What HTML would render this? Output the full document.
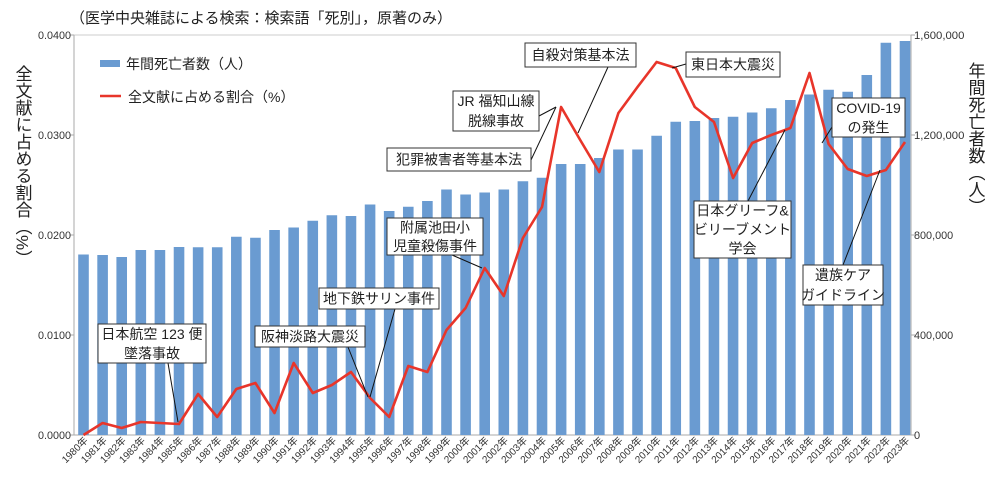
<!DOCTYPE html>
<html><head><meta charset="utf-8"><style>
html,body{margin:0;padding:0;background:#fff;width:1001px;height:479px;overflow:hidden}
svg{display:block;font-family:"Liberation Sans","Noto Sans CJK JP",sans-serif}
.ann rect{fill:#fff;stroke:#333;stroke-width:1}
.ann text{font-size:14px;fill:#222;text-anchor:middle}
.ann line{stroke:#111;stroke-width:1}
</style></head><body>
<svg id="chart" width="1001" height="479" viewBox="0 0 1001 479">
<text x="70" y="23" font-size="15" fill="#222">（医学中央雑誌による検索：検索語「死別」，原著のみ）</text>
<g id="axes"></g>
<g id="bars"></g>
<g id="line"></g>
<g id="xlabels"></g>
<g>
<rect x="100" y="60" width="20" height="7" fill="#6a9bd1"/>
<text x="126" y="69" font-size="14" fill="#222">年間死亡者数（人）</text>
<line x1="100" y1="96" x2="121" y2="96" stroke="#e8352a" stroke-width="2.5"/>
<text x="128" y="102" font-size="14" fill="#222">全文献に占める割合（%）</text>
</g>
<text font-size="17" fill="#222" style="writing-mode:vertical-rl" x="22" y="65">全文献に占める割合（%）</text>
<text font-size="17" fill="#222" style="writing-mode:vertical-rl" x="975" y="62">年間死亡者数（人）</text>
<g id="anns"></g>
</svg>
<script>
const years=[1980,1981,1982,1983,1984,1985,1986,1987,1988,1989,1990,1991,1992,1993,1994,1995,1996,1997,1998,1999,2000,2001,2002,2003,2004,2005,2006,2007,2008,2009,2010,2011,2012,2013,2014,2015,2016,2017,2018,2019,2020,2021,2022,2023];
const deaths=[722000,720000,712000,740000,740000,752000,751000,751000,793000,789000,820000,830000,857000,879000,876000,922000,896000,913000,936000,982000,962000,970000,982000,1015000,1029000,1084000,1084000,1108000,1142000,1142000,1197000,1253000,1256000,1268000,1273000,1290000,1307000,1340000,1362000,1381000,1373000,1440000,1569000,1576000];
const ratio=[0,0.0012,0.0007,0.0013,0.0012,0.0011,0.0041,0.0018,0.0046,0.0052,0.0022,0.0072,0.0042,0.0050,0.0063,0.0037,0.0018,0.0069,0.0063,0.0105,0.0127,0.0167,0.0139,0.0197,0.0228,0.0328,0.0295,0.0263,0.0322,0.0348,0.0373,0.0367,0.0328,0.0313,0.0257,0.0292,0.0300,0.0307,0.0362,0.0291,0.0266,0.0259,0.0265,0.0293];
const leftTicks=["0.0000","0.0100","0.0200","0.0300","0.0400"];
const rightTicks=["0","400,000","800,000","1,200,000","1,600,000"];
const NS="http://www.w3.org/2000/svg";
const X0=74,X1=911,Y0=435,Y1=35;
const step=(905-83.5)/(years.length-1);
const xPos=i=>83.5+i*step;
const yL=v=>Y0-(v/0.04)*(Y0-Y1);
const yR=v=>Y0-(v/1600000)*(Y0-Y1);
function mk(tag,attrs,parent){const e=document.createElementNS(NS,tag);for(const k in attrs)e.setAttribute(k,attrs[k]);parent.appendChild(e);return e;}
const axes=document.getElementById('axes');
let e;
e=mk('line',{x1:X0,y1:Y1,x2:X1,y2:Y1,stroke:'#ccc','stroke-width':1},axes);


e=mk('line',{x1:X0,y1:Y1,x2:X0,y2:Y0,stroke:'#aaa','stroke-width':1},axes);


e=mk('line',{x1:X1,y1:Y1,x2:X1,y2:Y0,stroke:'#aaa','stroke-width':1},axes);


e=mk('line',{x1:X0,y1:Y0,x2:X1,y2:Y0,stroke:'#aaa','stroke-width':1},axes);


leftTicks.forEach((t,i)=>{const y=yL(parseFloat(t));
 e=mk('line',{x1:X0-4,y1:y,x2:X0,y2:y,stroke:'#aaa'},axes);
 
 
 e=mk('text',{x:X0-3,y:y+4,'font-size':11,'text-anchor':'end',fill:'#333',textLength:33,lengthAdjust:'spacingAndGlyphs'},axes);e.textContent=t;
 
 });
rightTicks.forEach((t,i)=>{const y=yR(parseFloat(t.replace(/,/g,'')));
 e=mk('line',{x1:X1,y1:y,x2:X1+4,y2:y,stroke:'#aaa'},axes);
 
 
 e=mk('text',{x:X1+3,y:y+4,'font-size':11,fill:'#333'},axes);e.textContent=t;
 if(t.length>3){e.setAttribute('textLength',t.length*5.6);e.setAttribute('lengthAdjust','spacingAndGlyphs');}
 
 });
const bars=document.getElementById('bars');
deaths.forEach((d,i)=>{const y=yR(d);
 e=mk('rect',{x:xPos(i)-5.3,y:y,width:10.6,height:Y0-y,fill:'#6a9bd1'},bars);
 
 });
const pts=ratio.map((r,i)=>xPos(i).toFixed(1)+','+yL(r).toFixed(1)).join(' ');
e=mk('polyline',{points:pts,fill:'none',stroke:'#e8352a','stroke-width':2.6,'stroke-linejoin':'round'},document.getElementById('line'));


const xl=document.getElementById('xlabels');
years.forEach((yr,i)=>{const x=xPos(i)+5,y=441;
 e=mk('text',{x:x,y:y,'font-size':10,'text-anchor':'end',fill:'#333',transform:`rotate(-45 ${x} ${y})`,textLength:32,lengthAdjust:'spacingAndGlyphs'},xl);
 e.textContent=yr+'年';
 
 });
const anns=[
 {n:'jal-123',l:['日本航空 123 便','墜落事故'],b:[98,324,108,39],ln:[168,363,178,422]},
 {n:'hanshin-earthquake',l:['阪神淡路大震災'],b:[255,326,110,21],ln:[348,347,368,397]},
 {n:'sarin-attack',l:['地下鉄サリン事件'],b:[319,288,120,21],ln:[395,309,370,397]},
 {n:'ikeda-school',l:['附属池田小','児童殺傷事件'],b:[387,218,96,37],ln:[452,255,482,268]},
 {n:'crime-victims-act',l:['犯罪被害者等基本法'],b:[387,148,144,23],ln:[531,160,556,107]},
 {n:'jr-fukuchiyama',l:['JR 福知山線','脱線事故'],b:[453,91,86,40],ln:[539,116,556,107]},
 {n:'suicide-act',l:['自殺対策基本法'],b:[525,43,111,24],ln:[608,67,578,133]},
 {n:'east-japan-earthquake',l:['東日本大震災'],b:[686,52,94,25],ln:[686,64,672,68]},
 {n:'covid-19',l:['COVID-19','の発生'],b:[832,98,73,39],ln:[832,127,822,143]},
 {n:'grief-society',l:['日本グリーフ&','ビリーブメント','学会'],b:[694,201,97,57],ln:[748,201,785,130]},
 {n:'bereavement-guideline',l:['遺族ケア','ガイドライン'],b:[803,265,80,40],ln:[843,265,880,170]}
];
const ag=document.getElementById('anns');
anns.forEach(a=>{const g=mk('g',{class:'ann'},ag);
 
 
 mk('line',{x1:a.ln[0],y1:a.ln[1],x2:a.ln[2],y2:a.ln[3]},g);
 mk('rect',{x:a.b[0],y:a.b[1],width:a.b[2],height:a.b[3]},g);
 const lh=a.b[3]/a.l.length;
 a.l.forEach((s,k)=>{const t=mk('text',{x:a.b[0]+a.b[2]/2,y:a.b[1]+lh*k+lh/2+5},g);t.textContent=s;});
});
</script>
</body></html>
